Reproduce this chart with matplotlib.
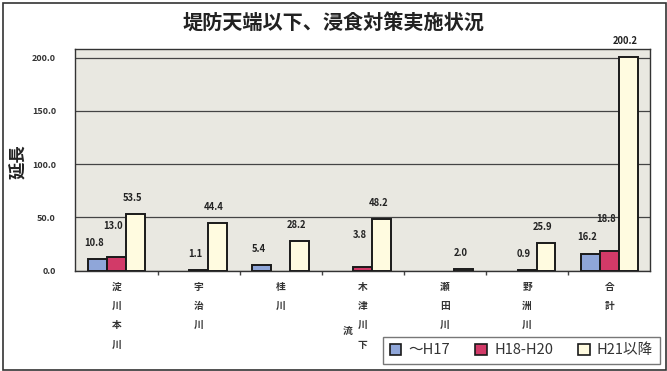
import matplotlib
matplotlib.use("Agg")
import matplotlib.pyplot as plt
import numpy as np
from matplotlib.patches import Rectangle

plt.rcParams["font.family"] = ["Noto Sans CJK JP", "DejaVu Sans"]

# river sections along the x axis
categories = ["淀川本川", "宇治川", "桂川", "木津川下流", "瀬田川", "野洲川", "合計"]
series_names = ["〜H17", "H18-H20", "H21以降"]
upto_h17 = [10.8, 0.0, 5.4, 0.0, 0.0, 0.0, 16.2]
h18_h20 = [13.0, 1.1, 0.0, 3.8, 0.0, 0.9, 18.8]
h21_on = [53.5, 44.4, 28.2, 48.2, 2.0, 25.9, 200.2]
yticks = [0.0, 50.0, 100.0, 150.0, 200.0]

colors = ["#8fa6d9", "#d23a68", "#fffbe0"]
edge = "#1a1a1a"

fig = plt.figure(figsize=(6.67, 3.71), dpi=100)
fig.patch.set_facecolor("white")
ax = fig.add_axes([0.113, 0.27, 0.862, 0.598])
ax.set_facecolor("#e9e8e1")

x = np.arange(len(categories))
w = 0.23
series = [upto_h17, h18_h20, h21_on]
for k, (vals, col) in enumerate(zip(series, colors)):
    xs = x + (k - 1) * w
    vals = np.asarray(vals)
    keep = vals > 0
    ax.bar(xs[keep], vals[keep], width=w, color=col, edgecolor=edge,
           linewidth=1.4, zorder=3)
    for i, v in enumerate(vals):
        if v <= 0:
            continue
        off = 8
        # middle labels get lifted when the left bar already carries a label
        if k == 1 and (upto_h17[i] > 0 or v > 3):
            off = 19
        ax.annotate(f"{v:.1f}", (xs[i] - 0.04, v), xytext=(0, off),
                    textcoords="offset points", ha="center", va="bottom",
                    fontsize=6.8, fontweight="bold", color="#222222", zorder=4)

ax.set_xlim(-0.5, len(categories) - 0.5)
ax.set_ylim(0, 208)
ax.set_yticks(yticks)
ax.set_yticklabels([f"{t:.1f}" for t in yticks], fontsize=6.5, fontweight="bold",
                   color="#333333")
ax.yaxis.grid(True, color="#444444", linewidth=0.9, zorder=1)
ax.tick_params(axis="y", length=0, pad=14)

# category names written top-down, overflow beyond four chars goes to a left column
ax.set_xticks(x)
ax.set_xticklabels(["\n".join(c[:4]) for c in categories], fontsize=7,
                   fontweight="bold", color="#333333", linespacing=2.15,
                   va="top")
ax.tick_params(axis="x", length=0, pad=8)
for i, c in enumerate(categories):
    if len(c) > 4:
        ax.annotate("\n".join(c[4:]), (x[i], 0), xycoords=("data", "data"),
                    xytext=(-11, -43), textcoords="offset points",
                    ha="center", va="center", fontsize=7, fontweight="bold",
                    color="#333333")
ax.set_xticks(x[:-1] + 0.5, minor=True)
ax.tick_params(axis="x", which="minor", length=3, width=1, color="#444444")

for s in ax.spines.values():
    s.set_color("#333333")
    s.set_linewidth(1.0)

fig.text(0.028, 0.565, "延長", rotation=90, fontsize=12.5, fontweight="bold",
         ha="center", va="center", color="#222222")
fig.suptitle("堤防天端以下、浸食対策実施状況", x=0.5, y=0.968, fontsize=14.5,
             fontweight="bold", color="#222222")

handles = [Rectangle((0, 0), 1, 1, facecolor=c, edgecolor=edge, linewidth=1.2)
           for c in colors]
leg = fig.legend(handles, series_names, loc="lower right",
                 bbox_to_anchor=(1.0, 0.0), ncol=3, fontsize=10.5,
                 frameon=True, fancybox=False, handlelength=0.8,
                 handleheight=0.8, columnspacing=1.7, handletextpad=0.5,
                 borderpad=0.45)
leg.get_frame().set_edgecolor("#555555")
leg.get_frame().set_linewidth(1.0)
for t in leg.get_texts():
    t.set_color("#333333")

fig.add_artist(Rectangle((0.005, 0.003), 0.993, 0.99, transform=fig.transFigure,
                         fill=False, edgecolor="#333333", linewidth=1.2))

fig.savefig("out.png", dpi=100)
